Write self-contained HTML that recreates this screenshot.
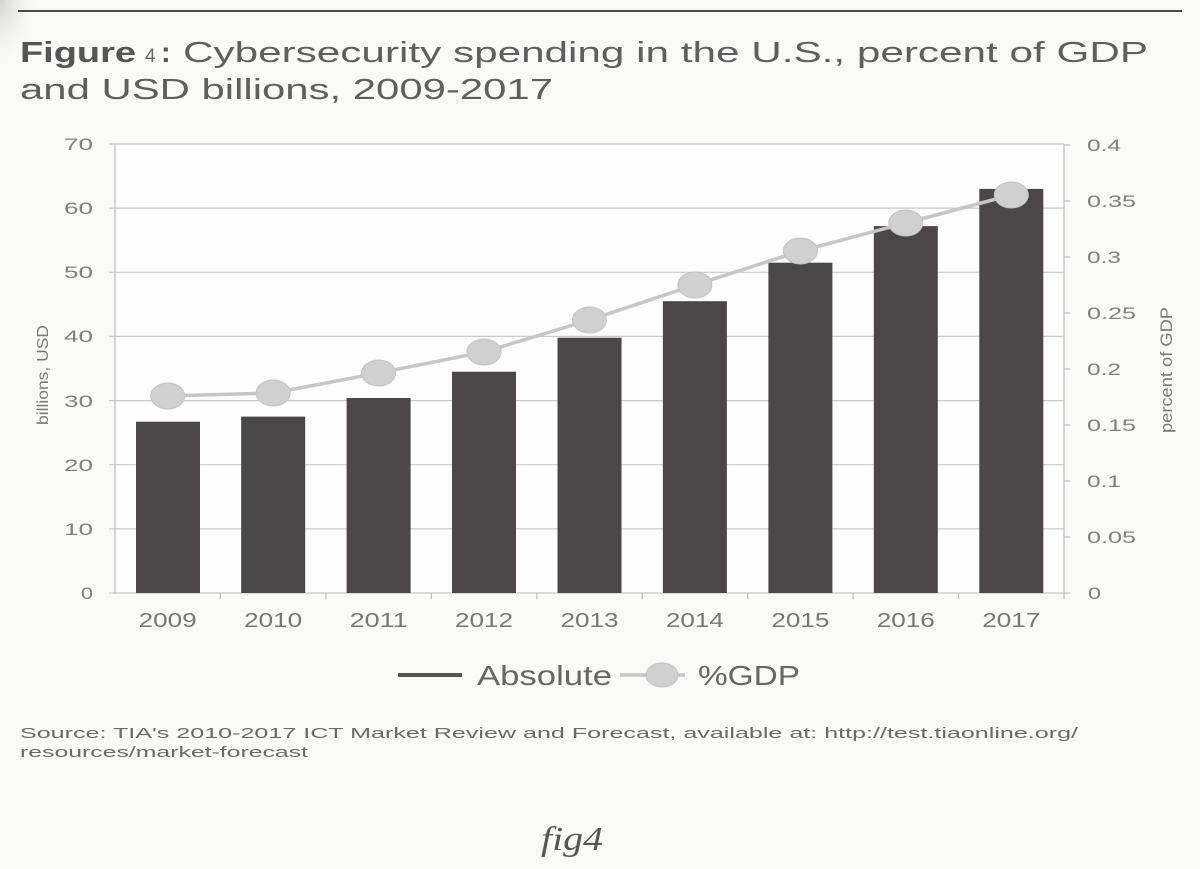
<!DOCTYPE html>
<html>
<head>
<meta charset="utf-8">
<style>
  html, body { margin: 0; padding: 0; background: #f9f9f7; }
  svg { display: block; }
  text { font-family: "Liberation Sans", Arial, sans-serif; }
</style>
</head>
<body>
<svg width="1200" height="869" viewBox="0 0 1200 869" xmlns="http://www.w3.org/2000/svg">
  <defs>
    <radialGradient id="corner" cx="0" cy="0" r="1">
      <stop offset="0" stop-color="#c8c8c8" stop-opacity="0.8"/>
      <stop offset="1" stop-color="#f9f9f7" stop-opacity="0"/>
    </radialGradient>
  </defs>
  <rect x="0" y="0" width="1200" height="869" fill="#f9f9f7"/>
  <rect x="0" y="0" width="40" height="70" fill="url(#corner)"/>

  <!-- top rule -->
  <line x1="18" y1="11" x2="1182" y2="11" stroke="#4a4a4a" stroke-width="2"/>

  <!-- Title -->
  <text x="20" y="62" font-size="29" font-weight="bold" fill="#555" textLength="116" lengthAdjust="spacingAndGlyphs">Figure</text>
  <text x="145" y="62" font-size="19" fill="#666">4</text>
  <text x="161" y="62" font-size="29" font-weight="bold" fill="#555">:</text>
  <text x="183" y="62" font-size="29" fill="#5f5f5f" textLength="965" lengthAdjust="spacingAndGlyphs">Cybersecurity spending in the U.S., percent of GDP</text>
  <text x="20" y="99" font-size="29" fill="#5f5f5f" textLength="533" lengthAdjust="spacingAndGlyphs">and USD billions, 2009-2017</text>

  <!-- plot background -->
  <rect x="115" y="144" width="949" height="449" fill="#fdfdfd"/>

  <!-- gridlines -->
  <g stroke="#c9c9c9" stroke-width="1.2">
    <line x1="109" y1="144" x2="1064" y2="144"/>
    <line x1="109" y1="208.1" x2="1064" y2="208.1"/>
    <line x1="109" y1="272.3" x2="1064" y2="272.3"/>
    <line x1="109" y1="336.4" x2="1064" y2="336.4"/>
    <line x1="109" y1="400.6" x2="1064" y2="400.6"/>
    <line x1="109" y1="464.7" x2="1064" y2="464.7"/>
    <line x1="109" y1="528.9" x2="1064" y2="528.9"/>
    <line x1="109" y1="593" x2="1064" y2="593"/>
  </g>
  <!-- axes -->
  <g stroke="#bdbdbd" stroke-width="1.2">
    <line x1="115" y1="144" x2="115" y2="593"/>
    <line x1="1064" y1="144" x2="1064" y2="599"/>
    <!-- right ticks -->
    <line x1="1064" y1="145" x2="1070" y2="145"/>
    <line x1="1064" y1="201" x2="1070" y2="201"/>
    <line x1="1064" y1="257" x2="1070" y2="257"/>
    <line x1="1064" y1="313" x2="1070" y2="313"/>
    <line x1="1064" y1="369" x2="1070" y2="369"/>
    <line x1="1064" y1="425" x2="1070" y2="425"/>
    <line x1="1064" y1="481" x2="1070" y2="481"/>
    <line x1="1064" y1="537" x2="1070" y2="537"/>
    <line x1="1064" y1="593" x2="1070" y2="593"/>
    <!-- category ticks -->
    <line x1="220.4" y1="593" x2="220.4" y2="599"/>
    <line x1="325.9" y1="593" x2="325.9" y2="599"/>
    <line x1="431.3" y1="593" x2="431.3" y2="599"/>
    <line x1="536.8" y1="593" x2="536.8" y2="599"/>
    <line x1="642.2" y1="593" x2="642.2" y2="599"/>
    <line x1="747.6" y1="593" x2="747.6" y2="599"/>
    <line x1="853.1" y1="593" x2="853.1" y2="599"/>
    <line x1="958.5" y1="593" x2="958.5" y2="599"/>
  </g>

  <!-- bars -->
  <g fill="#4b4749">
    <rect x="136" y="421.7" width="64" height="171.3"/>
    <rect x="241.2" y="416.6" width="64" height="176.4"/>
    <rect x="346.6" y="398" width="64" height="195"/>
    <rect x="452" y="371.7" width="64" height="221.3"/>
    <rect x="557.5" y="337.7" width="64" height="255.3"/>
    <rect x="662.9" y="301.2" width="64" height="291.8"/>
    <rect x="768.4" y="262.7" width="64" height="330.3"/>
    <rect x="873.8" y="226.1" width="64" height="366.9"/>
    <rect x="979.3" y="188.9" width="64" height="404.1"/>
  </g>

  <!-- %GDP line -->
  <polyline points="167.7,396 273.2,393 378.6,373 484,352 589.5,320 694.9,285 800.4,251 905.8,223 1011.3,195"
            fill="none" stroke="#c6c6c6" stroke-width="3.5"/>
  <g fill="#d0d0d0" stroke="#c2c2c2" stroke-width="1">
    <ellipse cx="167.7" cy="396" rx="17" ry="13"/>
    <ellipse cx="273.2" cy="393" rx="17" ry="13"/>
    <ellipse cx="378.6" cy="373" rx="17" ry="13"/>
    <ellipse cx="484" cy="352" rx="17" ry="13"/>
    <ellipse cx="589.5" cy="320" rx="17" ry="13"/>
    <ellipse cx="694.9" cy="285" rx="17" ry="13"/>
    <ellipse cx="800.4" cy="251" rx="17" ry="13"/>
    <ellipse cx="905.8" cy="223" rx="17" ry="13"/>
    <ellipse cx="1011.3" cy="195" rx="17" ry="13"/>
  </g>

  <!-- left axis labels -->
  <g font-size="17" fill="#808080" text-anchor="end">
    <text x="93" y="150" textLength="29" lengthAdjust="spacingAndGlyphs">70</text>
    <text x="93" y="214" textLength="29" lengthAdjust="spacingAndGlyphs">60</text>
    <text x="93" y="278" textLength="29" lengthAdjust="spacingAndGlyphs">50</text>
    <text x="93" y="342" textLength="29" lengthAdjust="spacingAndGlyphs">40</text>
    <text x="93" y="407" textLength="29" lengthAdjust="spacingAndGlyphs">30</text>
    <text x="93" y="471" textLength="29" lengthAdjust="spacingAndGlyphs">20</text>
    <text x="93" y="535" textLength="29" lengthAdjust="spacingAndGlyphs">10</text>
    <text x="93" y="599" textLength="12" lengthAdjust="spacingAndGlyphs">0</text>
  </g>

  <!-- right axis labels -->
  <g font-size="17" fill="#808080">
    <text x="1087" y="151" textLength="34" lengthAdjust="spacingAndGlyphs">0.4</text>
    <text x="1087" y="207" textLength="49" lengthAdjust="spacingAndGlyphs">0.35</text>
    <text x="1087" y="263" textLength="34" lengthAdjust="spacingAndGlyphs">0.3</text>
    <text x="1087" y="319" textLength="49" lengthAdjust="spacingAndGlyphs">0.25</text>
    <text x="1087" y="375" textLength="34" lengthAdjust="spacingAndGlyphs">0.2</text>
    <text x="1087" y="431" textLength="49" lengthAdjust="spacingAndGlyphs">0.15</text>
    <text x="1087" y="487" textLength="34" lengthAdjust="spacingAndGlyphs">0.1</text>
    <text x="1087" y="543" textLength="49" lengthAdjust="spacingAndGlyphs">0.05</text>
    <text x="1088" y="599" textLength="13" lengthAdjust="spacingAndGlyphs">0</text>
  </g>

  <!-- axis titles -->
  <text transform="translate(48,375) rotate(-90)" font-size="16" fill="#7a7a7a" text-anchor="middle" textLength="100" lengthAdjust="spacingAndGlyphs">billions, USD</text>
  <text transform="translate(1172,370) rotate(-90)" font-size="17" fill="#7a7a7a" text-anchor="middle" textLength="126" lengthAdjust="spacingAndGlyphs">percent of GDP</text>

  <!-- x labels -->
  <g font-size="20" fill="#777" text-anchor="middle">
    <text x="167.7" y="627" textLength="58" lengthAdjust="spacingAndGlyphs">2009</text>
    <text x="273.2" y="627" textLength="58" lengthAdjust="spacingAndGlyphs">2010</text>
    <text x="378.6" y="627" textLength="58" lengthAdjust="spacingAndGlyphs">2011</text>
    <text x="484" y="627" textLength="58" lengthAdjust="spacingAndGlyphs">2012</text>
    <text x="589.5" y="627" textLength="58" lengthAdjust="spacingAndGlyphs">2013</text>
    <text x="694.9" y="627" textLength="58" lengthAdjust="spacingAndGlyphs">2014</text>
    <text x="800.4" y="627" textLength="58" lengthAdjust="spacingAndGlyphs">2015</text>
    <text x="905.8" y="627" textLength="58" lengthAdjust="spacingAndGlyphs">2016</text>
    <text x="1011.3" y="627" textLength="58" lengthAdjust="spacingAndGlyphs">2017</text>
  </g>

  <!-- legend -->
  <line x1="398" y1="675" x2="462" y2="675" stroke="#555" stroke-width="4"/>
  <text x="477" y="685" font-size="28" fill="#666" textLength="135" lengthAdjust="spacingAndGlyphs">Absolute</text>
  <line x1="620" y1="675" x2="685" y2="675" stroke="#c6c6c6" stroke-width="3.5"/>
  <ellipse cx="662" cy="675" rx="16" ry="12" fill="#d0d0d0" stroke="#c2c2c2" stroke-width="1"/>
  <text x="698" y="685" font-size="28" fill="#666" textLength="102" lengthAdjust="spacingAndGlyphs">%GDP</text>

  <!-- source -->
  <text x="20" y="738" font-size="15" fill="#6a6a6a" textLength="1058" lengthAdjust="spacingAndGlyphs">Source: TIA's 2010-2017 ICT Market Review and Forecast, available at: http://test.tiaonline.org/</text>
  <text x="20" y="757" font-size="15" fill="#6a6a6a" textLength="288" lengthAdjust="spacingAndGlyphs">resources/market-forecast</text>

  <!-- fig4 -->
  <text x="572" y="850" font-size="34" fill="#555" font-style="italic" text-anchor="middle" style="font-family:'Liberation Serif', serif;" textLength="62" lengthAdjust="spacingAndGlyphs">fig4</text>
</svg>
</body>
</html>
